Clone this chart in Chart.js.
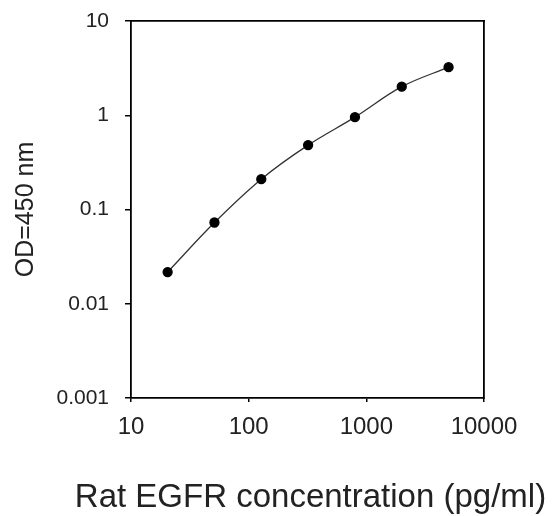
<!DOCTYPE html>
<html>
<head>
<meta charset="utf-8">
<script src="https://cdn.jsdelivr.net/npm/chart.js@4.4.1/dist/chart.umd.min.js"></script>
<style>
  html, body { margin: 0; padding: 0; background: #fff; }
  #wrap { width: 553px; height: 516px; }
</style>
</head>
<body>
<div id="wrap"><canvas id="myChart" width="553" height="516"></canvas></div>
<script>
// standard curve, 2.5-fold dilutions
const concentrations = [20.48, 51.2, 128, 320, 800, 2000, 5000];
const odValues = [0.0217, 0.0728, 0.21, 0.482, 0.955, 2.01, 3.24];
const xTicks = [10, 100, 1000, 10000];
const yTicks = [0.001, 0.01, 0.1, 1, 10];
const xTitle = 'Rat EGFR concentration (pg/ml)';
const yTitle = 'OD=450 nm';

const points = concentrations.map((c, i) => ({ x: c, y: odValues[i] }));
const fontFamily = "Arial, 'Liberation Sans', sans-serif";

// the axis title gets squeezed to the plot width, so draw it by hand
const xTitlePlugin = {
    id: 'xTitle',
    afterDraw(chart) {
        const { ctx, chartArea } = chart;
        ctx.save();
        ctx.font = '33px ' + fontFamily;
        ctx.fillStyle = '#222';
        ctx.textAlign = 'center';
        ctx.textBaseline = 'alphabetic';
        ctx.fillText(xTitle, (chartArea.left + chartArea.right) / 2 + 3, chart.height - 9);
        ctx.restore();
    }
};

const ctx = document.getElementById('myChart').getContext('2d');
new Chart(ctx, {
    type: 'line',
    data: {
        datasets: [{
            data: points,
            borderColor: '#333',
            borderWidth: 1.3,
            tension: 0.35,
            pointRadius: 4.5,
            pointBackgroundColor: '#000',
            pointBorderColor: '#000',
            fill: false
        }]
    },
    plugins: [xTitlePlugin],
    options: {
        responsive: false,
        animation: false,
        layout: { padding: { top: 21, right: 69, bottom: 0, left: 0 } },
        plugins: {
            legend: { display: false },
            tooltip: { enabled: false }
        },
        scales: {
            x: {
                type: 'logarithmic',
                position: 'bottom',
                min: 10,
                max: 10000,
                afterBuildTicks: scale => { scale.ticks = xTicks.map(v => ({ value: v })); },
                afterFit: scale => { scale.height = 118; },
                ticks: {
                    color: '#222',
                    font: { family: fontFamily, size: 24 },
                    padding: 11,
                    maxRotation: 0,
                    callback: value => String(value)
                },
                grid: { drawOnChartArea: false, drawTicks: true, tickLength: 4, color: '#000', lineWidth: 1.5 },
                border: { display: true, color: '#000', width: 1.8 }
            },
            y: {
                type: 'logarithmic',
                position: 'left',
                min: 0.001,
                max: 10,
                afterBuildTicks: scale => { scale.ticks = yTicks.map(v => ({ value: v })); },
                afterFit: scale => {
                    scale.width = 131;
                    scale.paddingTop = 0;
                    scale.paddingBottom = 0;
                },
                ticks: {
                    color: '#222',
                    font: { family: fontFamily, size: 21 },
                    padding: 16,
                    callback: value => String(value)
                },
                grid: { drawOnChartArea: false, drawTicks: true, tickLength: 6, color: '#000', lineWidth: 1.5 },
                border: { display: true, color: '#000', width: 1.8 },
                title: {
                    display: true,
                    text: yTitle,
                    color: '#222',
                    font: { family: fontFamily, size: 25 },
                    padding: 11
                }
            },
            xTop: {
                type: 'logarithmic',
                position: 'top',
                min: 10,
                max: 10000,
                afterFit: scale => { scale.height = 0; },
                ticks: { display: false },
                grid: { display: false },
                border: { display: true, color: '#000', width: 1.8 }
            },
            yRight: {
                type: 'logarithmic',
                position: 'right',
                min: 0.001,
                max: 10,
                afterFit: scale => { scale.width = 0; },
                ticks: { display: false },
                grid: { display: false },
                border: { display: true, color: '#000', width: 1.8 }
            }
        }
    }
});
</script>
</body>
</html>
